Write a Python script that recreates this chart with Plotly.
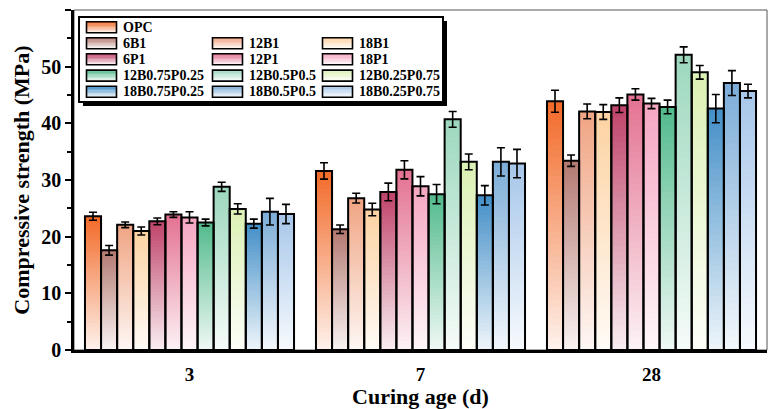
import plotly.graph_objects as go

# ---------------- data ----------------
ages = ["3", "7", "28"]
series = ["OPC", "6B1", "12B1", "18B1", "6P1", "12P1", "18P1",
          "12B0.75P0.25", "12B0.5P0.5", "12B0.25P0.75",
          "18B0.75P0.25", "18B0.5P0.5", "18B0.25P0.75"]
vals_3 = [23.6, 17.6, 22.1, 21.0, 22.7, 23.9, 23.4, 22.5, 28.8, 24.9, 22.3, 24.4, 24.0]
err_3 = [0.7, 0.85, 0.5, 0.7, 0.6, 0.5, 1.0, 0.6, 0.8, 0.9, 0.8, 2.35, 1.7]
vals_7 = [31.6, 21.3, 26.8, 24.8, 27.9, 31.8, 28.9, 27.5, 40.7, 33.2, 27.3, 33.2, 32.9]
err_7 = [1.45, 0.75, 0.85, 1.1, 1.55, 1.6, 1.7, 1.7, 1.4, 1.4, 1.7, 2.5, 2.5]
vals_28 = [43.9, 33.4, 42.1, 42.0, 43.2, 45.1, 43.5, 42.9, 52.1, 49.0, 42.6, 47.1, 45.7]
err_28 = [1.95, 1.0, 1.3, 1.3, 1.3, 1.0, 0.9, 1.2, 1.4, 1.2, 2.5, 2.2, 1.2]

top_colors = ["#F26B2A", "#B47A72", "#F0A584", "#FDD3A3", "#C0456B", "#E47292",
              "#F5A7C2", "#53BB8D", "#9DD8BE", "#DCF1B5", "#4590C8", "#7DADD8", "#A8C7EA"]

FONT = "Liberation Serif"
NSEG = 40
GROUP_W = 0.905


def hex2rgb(h):
    h = h.lstrip("#")
    return tuple(int(h[i:i + 2], 16) for i in (0, 2, 4))


def grad(hexc, t):
    # t=1 -> full colour (top), t=0 -> nearly white (bottom)
    r, g, b = hex2rgb(hexc)
    f = 0.1 + 0.9 * t
    return "rgb(%d,%d,%d)" % (round(255 - (255 - r) * f), round(255 - (255 - g) * f),
                              round(255 - (255 - b) * f))


by_age_vals = [vals_3, vals_7, vals_28]
by_age_err = [err_3, err_7, err_28]
n = len(series)
bw = GROUP_W / n

fig = go.Figure()

# gradient fills (nested bars from zero, tallest first)
for i, name in enumerate(series):
    xs, ys, cs = [], [], []
    for a, age in enumerate(ages):
        v = by_age_vals[a][i]
        for k in range(NSEG):
            xs.append(age)
            ys.append(v * (NSEG - k) / NSEG)
            cs.append(grad(top_colors[i], 1 - k / (NSEG - 1)))
    fig.add_trace(go.Bar(x=xs, y=ys, base=0, width=bw, offset=-GROUP_W / 2 + i * bw,
                         name=name, showlegend=False,
                         marker=dict(color=cs, line=dict(width=0)), hoverinfo="skip"))

# outlines + error bars
for i, name in enumerate(series):
    fig.add_trace(go.Bar(
        x=ages, y=[by_age_vals[a][i] for a in range(3)], width=bw,
        offset=-GROUP_W / 2 + i * bw, name=name, showlegend=False,
        marker=dict(color="rgba(0,0,0,0)", line=dict(color="black", width=2)),
        error_y=dict(type="data", array=[by_age_err[a][i] for a in range(3)],
                     color="black", thickness=1.6, width=4)))

# ---------------- layout ----------------
L, R, T, B = 74, 5, 10, 59
W, H = 772, 409
PW, PH = W - L - R, H - T - B


def px(x):
    return (x - L) / PW


def py(y):
    return (H - B - y) / PH


shapes = []
shapes.append(dict(type="rect", xref="paper", yref="paper", x0=0, x1=1, y0=0, y1=1,
                   line=dict(color="#555555", width=1), layer="below"))
shapes.append(dict(type="rect", xref="paper", yref="paper", x0=px(83), x1=px(447),
                   y0=py(106), y1=py(21), fillcolor="black", line=dict(width=0)))
shapes.append(dict(type="rect", xref="paper", yref="paper", x0=px(79), x1=px(443),
                   y0=py(102), y1=py(17), fillcolor="white",
                   line=dict(color="black", width=2)))

annotations = []
col_x = [86.5, 212.5, 322.5]
row_y = [27.3, 43.3, 59.3, 75.6, 91.7]
sym_w, sym_h = 30, 11
nstrip = 8
for i, name in enumerate(series):
    if i == 0:
        r, c = 0, 0
    else:
        r, c = (i - 1) // 3 + 1, (i - 1) % 3
    x0 = col_x[c]
    yc = row_y[r]
    ytop = yc - sym_h / 2
    for s in range(nstrip):
        ya = ytop + sym_h * s / nstrip
        yb = ytop + sym_h * (s + 1) / nstrip
        shapes.append(dict(type="rect", xref="paper", yref="paper", x0=px(x0),
                           x1=px(x0 + sym_w), y0=py(yb + 0.3), y1=py(ya),
                           fillcolor=grad(top_colors[i], 1 - s / (nstrip - 1)),
                           line=dict(width=0)))
    shapes.append(dict(type="rect", xref="paper", yref="paper", x0=px(x0),
                       x1=px(x0 + sym_w), y0=py(ytop + sym_h), y1=py(ytop),
                       line=dict(color="black", width=1.6)))
    annotations.append(dict(xref="paper", yref="paper", x=px(x0 + sym_w + 4), y=py(yc),
                            text=name, showarrow=False, xanchor="left", yanchor="middle",
                            font=dict(family=FONT, size=14, color="black", weight="bold")))

fig.update_layout(
    width=W, height=H,
    margin=dict(l=L, r=R, t=T, b=B, pad=0),
    paper_bgcolor="white", plot_bgcolor="white",
    barmode="overlay",
    shapes=shapes, annotations=annotations,
    font=dict(family=FONT, color="black"),
    xaxis=dict(type="category", showline=True, linecolor="black", linewidth=2.5,
               ticks="", showgrid=False, range=[-0.5, 2.5], ticklabelstandoff=5,
               tickfont=dict(family=FONT, size=19, color="black", weight="bold"),
               title=dict(text="Curing age (d)", standoff=4,
                          font=dict(family=FONT, size=22, color="black", weight="bold"))),
    yaxis=dict(range=[0, 60], dtick=10, showline=True, linecolor="black", linewidth=2.5,
               ticks="outside", ticklen=6, tickwidth=2, tickcolor="black",
               minor=dict(dtick=5, ticks="outside", ticklen=4, tickwidth=2, tickcolor="black"),
               showgrid=False, zeroline=False,
               tickfont=dict(family=FONT, size=20, color="black", weight="bold"),
               title=dict(text="Compressive strength (MPa)", standoff=6,
                          font=dict(family=FONT, size=22, color="black", weight="bold"))),
)

fig.write_html("out.html")
